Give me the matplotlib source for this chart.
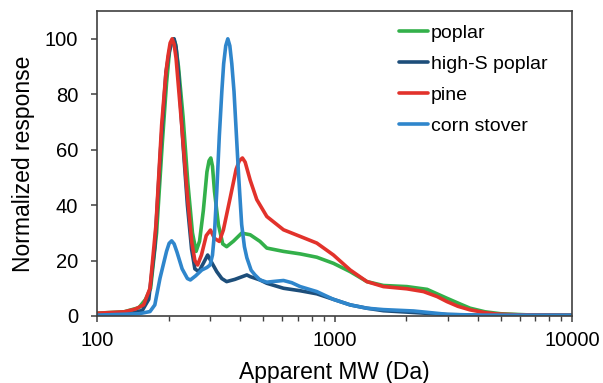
import matplotlib
matplotlib.use("Agg")
import matplotlib.pyplot as plt
from matplotlib.ticker import LogLocator, NullFormatter, FixedLocator, FixedFormatter

plt.rcParams["font.family"] = ["Liberation Sans", "DejaVu Sans"]

# ---- data ----
poplar_mw = [100, 130, 150, 160, 168, 178, 188, 196, 202, 206, 210, 214, 220, 230,
             241, 252, 261, 270, 280, 290, 296, 301, 306, 312, 324, 338, 351, 375,
             406, 441, 485, 518, 609, 716, 841, 988, 1162, 1367, 1604, 2013, 2450,
             2967, 3400, 3715, 4300, 5000, 6500, 10000]
poplar_val = [1, 1.5, 3, 6, 10, 30, 62, 84, 96, 99, 100, 98, 90, 72,
              48, 30, 23.3, 27, 38, 52, 56, 57, 54, 45, 33, 26, 25, 27,
              29.9, 29.3, 26.9, 24.5, 23.3, 22.4, 21.2, 19, 16, 12.4, 11, 10.6, 9.6,
              6.4, 4.2, 2.8, 1.5, 0.8, 0.4, 0.3]

highs_mw = [100, 140, 155, 165, 175, 185, 195, 201, 205, 208, 211, 215, 220, 230,
            240, 250, 258, 268, 280, 292, 305, 319, 335, 351, 380, 427, 441, 485,
            518, 609, 716, 841, 988, 1162, 1367, 1604, 2013, 2500, 3000, 4000,
            10000]
highs_val = [0.5, 1, 2, 6, 25, 60, 88, 95, 98, 99.6, 100, 97, 88, 62,
             40, 24, 17, 16, 19, 22, 19, 16, 13.5, 12.4, 13.2, 14.8, 14.2, 13,
             11.8, 10, 9.1, 8, 6, 4, 2.8, 1.9, 1.4, 0.9, 0.5, 0.3,
             0.2]

pine_mw = [100, 130, 145, 157, 167, 177, 187, 195, 199, 203, 207, 211, 215, 227,
           239, 250, 258, 265, 275, 288, 300, 312, 327, 340, 363, 385, 397, 409,
           420, 441, 470, 518, 609, 716, 841, 988, 1162, 1367, 1604, 2013, 2366,
           2700, 2967, 3300, 3715, 4300, 4816, 6000, 10000]
pine_val = [1, 1.5, 2.5, 4, 10, 33, 69, 88, 94, 98.5, 100, 98, 93, 69,
            45, 27, 20, 18.4, 22, 29, 31, 28, 26.9, 31, 42.5, 53, 56, 57,
            55.5, 49, 42, 35.9, 31.1, 28.7, 26.3, 22, 16.6, 12.4, 10.6, 9.8, 8.8,
            7, 5.2, 3.5, 2.2, 1.2, 0.7, 0.4, 0.3]

corn_mw = [100, 150, 167, 175, 184, 196, 201, 206, 211, 217, 228, 240, 247, 260,
           276, 290, 299, 306, 312, 319, 327, 335, 341, 348, 355, 362, 369, 377,
           386, 394, 406, 417, 427, 445, 462, 485, 518, 560, 609, 660, 716, 841,
           988, 1162, 1367, 1604, 2150, 2967, 4000, 10000]
corn_val = [0.3, 0.8, 1.6, 4, 13.6, 23.3, 26.2, 27.1, 26, 23, 17, 13.5, 13, 14.5,
            16.6, 17.5, 18.4, 22, 30, 45, 65, 81, 91, 97.5, 100, 97.5, 91, 81,
            65, 51, 33, 25, 21, 16.5, 14.8, 13, 12.2, 12.5, 12.8, 12, 10.6, 8.8,
            6, 4, 2.8, 2.3, 1.8, 0.6, 0.3, 0.3]

labels = ["poplar", "high-S poplar", "pine", "corn stover"]
colors = ["#33b04a", "#1d4e7a", "#e2322b", "#2f86cc"]

y_ticks = [0, 20, 40, 60, 80, 100]
x_ticks = [100, 1000, 10000]


def main():
    fig = plt.figure(figsize=(6.03, 3.83), dpi=100)
    ax = fig.add_axes([0.161, 0.175, 0.788, 0.796])

    series = [(poplar_mw, poplar_val), (highs_mw, highs_val),
              (pine_mw, pine_val), (corn_mw, corn_val)]
    for (mw, val), lab, col in zip(series, labels, colors):
        ax.plot(mw, val, color=col, lw=2.6, label=lab,
                solid_joinstyle="round", solid_capstyle="round")

    ax.set_xscale("log")
    ax.set_xlim(100, 10000)
    ax.set_ylim(0, 110)

    ax.xaxis.set_major_locator(FixedLocator(x_ticks))
    ax.xaxis.set_major_formatter(FixedFormatter([str(t) for t in x_ticks]))
    ax.xaxis.set_minor_locator(LogLocator(base=10, subs=range(2, 10)))
    ax.xaxis.set_minor_formatter(NullFormatter())
    ax.set_yticks(y_ticks)

    edge = "#404040"
    for s in ax.spines.values():
        s.set_color(edge)
        s.set_linewidth(1.2)
    ax.tick_params(axis="both", which="major", direction="out", length=4.5,
                   width=1.1, color=edge, labelsize=14.5, pad=9)
    ax.tick_params(axis="x", which="minor", direction="out", length=3.5,
                   width=1.0, color=edge)
    ax.tick_params(axis="x", which="major", pad=6)

    ax.set_xlabel("Apparent MW (Da)", fontsize=16.5, labelpad=8)
    ax.set_ylabel("Normalized response", fontsize=16.5, labelpad=7)

    ax.legend(loc="upper left", bbox_to_anchor=(0.635, 0.958), frameon=False,
              fontsize=14, handlelength=1.5, handletextpad=0.15,
              labelspacing=0.7, borderaxespad=0, borderpad=0)

    fig.savefig("out.png", dpi=100, facecolor="white")


if __name__ == "__main__":
    main()
